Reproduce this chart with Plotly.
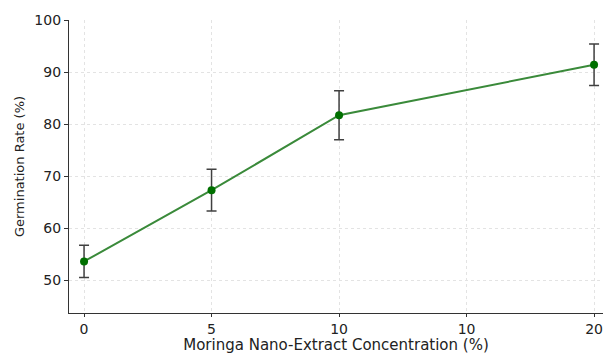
import plotly.graph_objects as go

concentration = [0, 5, 10, 20]
germination = [53.6, 67.3, 81.7, 91.4]
error = [3.1, 4.0, 4.7, 4.0]

tick_positions = [0, 5, 10, 15, 20]
tick_labels = ["0", "5", "10", "10", "20"]
y_ticks = [50, 60, 70, 80, 90, 100]

fig = go.Figure()
fig.add_trace(go.Scatter(
    x=concentration, y=germination,
    mode="lines+markers",
    line=dict(color="#3a8a3a", width=2),
    marker=dict(color="#007000", size=8),
    error_y=dict(type="data", array=error, visible=True,
                 color="#404040", thickness=1.5, width=5),
    showlegend=False,
))

fig.update_layout(
    width=603, height=354,
    margin=dict(l=69, r=0, t=20, b=41),
    plot_bgcolor="white", paper_bgcolor="white",
    font=dict(family="DejaVu Sans", size=12, color="#222222"),
)
fig.update_xaxes(
    range=[-0.59, 20.35],
    tickmode="array", tickvals=tick_positions, ticktext=tick_labels,
    showgrid=True, gridcolor="#e3e3e3", griddash="dot", gridwidth=1,
    showline=True, linecolor="#333333", linewidth=1.2,
    ticks="outside", ticklen=3, tickcolor="#333333",
    tickfont=dict(size=14),
    zeroline=False,
    title=dict(text="Moringa Nano-Extract Concentration (%)", font=dict(size=15), standoff=6),
)
fig.update_yaxes(
    range=[43.7, 100],
    tickmode="array", tickvals=y_ticks,
    showgrid=True, gridcolor="#e3e3e3", griddash="dot", gridwidth=1,
    showline=True, linecolor="#333333", linewidth=1.2,
    ticks="outside", ticklen=4, tickcolor="#333333",
    tickfont=dict(size=14),
    zeroline=False,
    title=dict(text="Germination Rate (%)", font=dict(size=13), standoff=6),
)

fig.write_html("out.html")
